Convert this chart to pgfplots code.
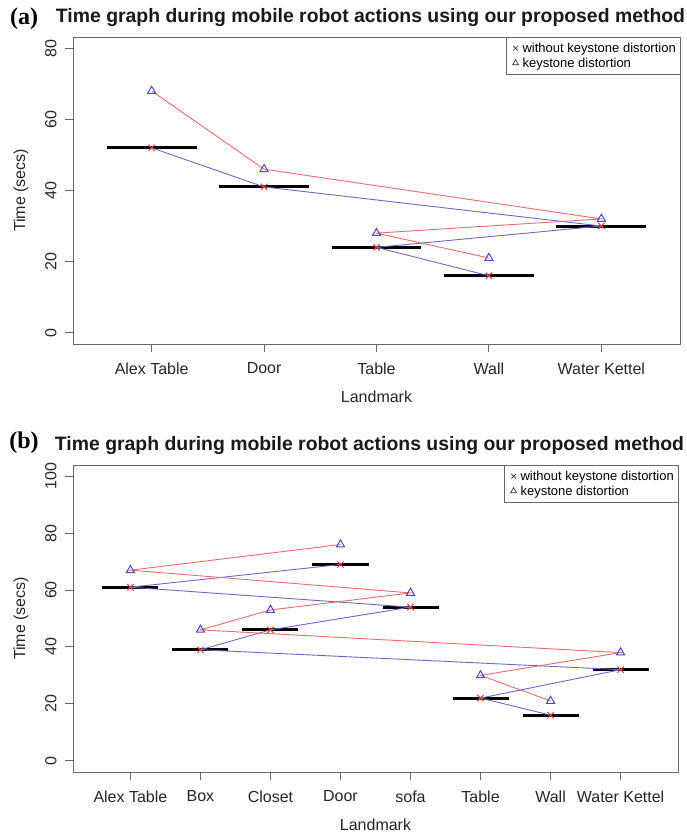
\documentclass[border=0pt]{standalone}
\usepackage{fontspec}
\setmainfont{Liberation Sans}
\newfontfamily\tnr{Liberation Serif}
\usepackage{pgfplots}
\pgfplotsset{compat=1.18}

\definecolor{redline}{RGB}{244,104,104}
\definecolor{blueline}{RGB}{105,105,205}
\definecolor{trimark}{RGB}{75,75,195}
\definecolor{crossmark}{RGB}{238,64,64}
\definecolor{boxgray}{RGB}{105,105,105}

\pgfplotsset{
 rstyle/.style={
  scale only axis,
  axis line style={boxgray, line width=0.9pt},
  tick style={boxgray, line width=0.9pt},
  tick align=outside,
  major tick length=8pt,
  tick pos=left,
  /pgf/number format/assume math mode=true,
  ticklabel style={font=\fontsize{16}{18}\selectfont, text=black!85},
  yticklabel style={xshift=-5pt, rotate=90, anchor=south},
  xticklabel style={yshift=-7pt},
  every axis x label/.style={at={(axis description cs:0.5,0)}, anchor=center, yshift=-53pt, font=\fontsize{16}{18}\selectfont, text=black!85},
  every axis y label/.style={at={(axis description cs:0,0.5)}, xshift=-52pt, rotate=90, anchor=center, font=\fontsize{16}{18}\selectfont, text=black!85},
  every axis title/.style={at={(axis description cs:0.5,1)}, anchor=center, xshift=-6pt, yshift=19pt, font=\bfseries\fontsize{19.4}{22}\selectfont, text=black!90},
  legend style={at={(1,1)}, anchor=north east, draw=boxgray, fill=white, font=\fontsize{13}{14}\selectfont, inner xsep=2pt, inner ysep=3.5pt, row sep=0pt},
  legend cell align=left,
  legend image code/.code={\path[draw=none, fill=none] (0pt,-3pt) rectangle (12pt,3pt); \draw[#1] plot coordinates {(7pt,0pt)};},
  xlabel={Landmark},
  ylabel={Time (secs)},
  title={Time graph during mobile robot actions using our proposed method},
 },
 medbar/.style={black, line width=3pt, forget plot},
 withoutk/.style={blueline, line width=0.9pt, mark=x, mark size=4.5pt, mark options={crossmark, line width=1pt, solid}, forget plot},
 keyst/.style={redline, line width=0.9pt, mark=triangle, mark size=4.7pt, mark options={trimark, line width=1pt, solid}, forget plot},
}

\begin{document}
\begin{tikzpicture}
\useasboundingbox (0,0) rectangle (687pt,835pt);

% ---------------- panel (a)
\begin{axis}[rstyle,
  at={(73pt,491pt)}, anchor=south west,
  width=607pt, height=307pt,
  xmin=0.3, xmax=5.7, ymin=-3.2, ymax=83.2,
  xtick={1,2,3,4,5},
  xticklabels={Alex Table, Door, Table, Wall, Water Kettel},
  ytick={0,20,40,60,80},
]
\addplot[medbar] coordinates {(0.6,52) (1.4,52)};
\addplot[medbar] coordinates {(1.6,41) (2.4,41)};
\addplot[medbar] coordinates {(2.6,24) (3.4,24)};
\addplot[medbar] coordinates {(3.6,16) (4.4,16)};
\addplot[medbar] coordinates {(4.6,30) (5.4,30)};
\addplot[withoutk] coordinates {(1,52) (2,41) (5,30) (3,24) (4,16)};
\addplot[keyst] coordinates {(1,68) (2,46) (5,32) (3,28) (4,21)};
\addlegendimage{only marks, mark=x, mark size=3.2pt, black!80, line width=0.7pt}
\addlegendentry{without keystone distortion}
\addlegendimage{only marks, mark=triangle, mark size=3.4pt, black!80, line width=0.7pt}
\addlegendentry{keystone distortion}
\end{axis}
\node[font=\tnr\bfseries\fontsize{24}{26}\selectfont] at (24pt,816pt) {(a)};

% ---------------- panel (b)
\begin{axis}[rstyle,
  at={(73pt,63pt)}, anchor=south west,
  width=605pt, height=307pt,
  xmin=0.18, xmax=8.82, ymin=-4, ymax=104,
  xtick={1,2,3,4,5,6,7,8},
  xticklabels={Alex Table, Box, Closet, Door, sofa, Table, Wall, Water Kettel},
  ytick={0,20,40,60,80,100},
]
\addplot[medbar] coordinates {(0.6,61) (1.4,61)};
\addplot[medbar] coordinates {(1.6,39) (2.4,39)};
\addplot[medbar] coordinates {(2.6,46) (3.4,46)};
\addplot[medbar] coordinates {(3.6,69) (4.4,69)};
\addplot[medbar] coordinates {(4.6,54) (5.4,54)};
\addplot[medbar] coordinates {(5.6,22) (6.4,22)};
\addplot[medbar] coordinates {(6.6,16) (7.4,16)};
\addplot[medbar] coordinates {(7.6,32) (8.4,32)};
\addplot[withoutk] coordinates {(4,69) (1,61) (5,54) (3,46) (2,39) (8,32) (6,22) (7,16)};
\addplot[keyst] coordinates {(4,76) (1,67) (5,59) (3,53) (2,46) (8,38) (6,30) (7,21)};
\addlegendimage{only marks, mark=x, mark size=3.2pt, black!80, line width=0.7pt}
\addlegendentry{without keystone distortion}
\addlegendimage{only marks, mark=triangle, mark size=3.4pt, black!80, line width=0.7pt}
\addlegendentry{keystone distortion}
\end{axis}
\node[font=\tnr\bfseries\fontsize{24}{26}\selectfont] at (24pt,392pt) {(b)};
\end{tikzpicture}
\end{document}
